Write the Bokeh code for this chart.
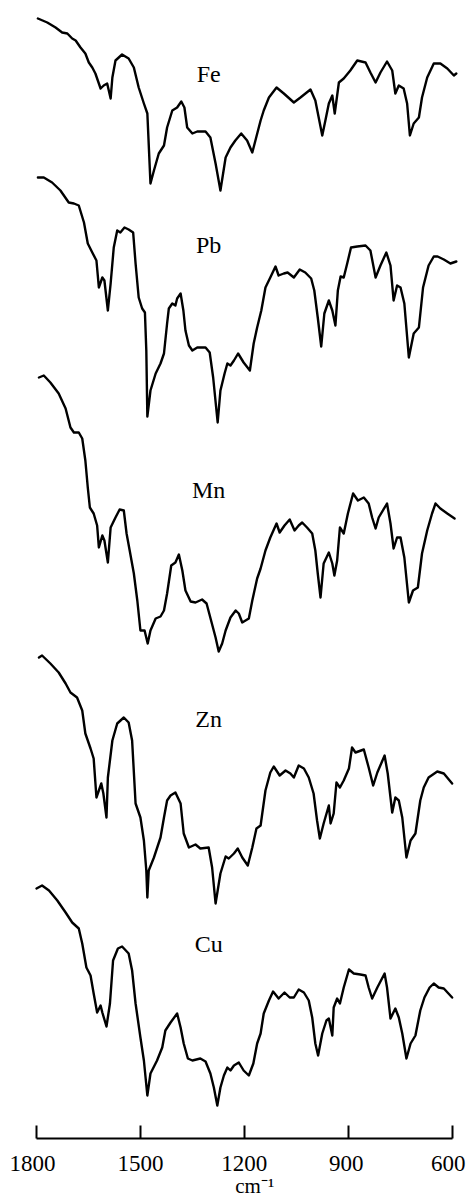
from bokeh.plotting import figure
from bokeh.models import Range1d, LinearAxis, FixedTicker
from bokeh.core.properties import value
from bokeh.embed import file_html
from bokeh.resources import INLINE

# ---------------- data (wavenumber in cm^-1, relative transmittance) ----------------
metals = ["Fe", "Pb", "Mn", "Zn", "Cu"]

fe_wn = [1796,1769,1745,1726,1711,1697,1687,1673,1659,1649,1639,1630,1615,1606,1596,1586,1581,1572,1553,1534,
         1519,1505,1490,1480,1471,1461,1447,1432,1423,1408,1394,1382,1373,1365,1350,1336,1312,1298,1283,1269,
         1254,1240,1226,1209,1192,1177,1168,1153,1144,1129,1107,1086,1057,1038,1009,995,975,966,956,946,
         939,927,913,894,874,850,836,821,807,788,773,764,754,740,730,722,711,696,687,672,653,634,614,595,588]
fe_t = [182,178,173,168,167,162,160,153,147,138,133,127,112,115,117,102,123,140,146,142,
        133,113,97,87,17,30,47,55,73,90,93,99,93,73,67,69,69,63,37,10,
        43,53,60,67,60,48,60,80,90,103,113,107,98,103,111,100,65,80,97,105,
        87,118,122,130,140,138,128,118,128,139,130,107,115,112,97,65,77,83,103,123,137,137,132,125,127]

pb_wn = [1796,1779,1755,1731,1707,1692,1678,1663,1652,1639,1627,1620,1610,1604,1594,1586,1577,1567,1558,1546,
         1534,1521,1514,1505,1495,1487,1483,1480,1471,1456,1442,1432,1423,1418,1408,1399,1394,1384,1376,1370,
         1360,1350,1336,1312,1300,1290,1277,1269,1257,1249,1240,1230,1218,1202,1184,1173,1163,1151,1139,1125,
         1110,1101,1086,1075,1057,1040,1024,1007,998,988,978,969,956,946,937,930,922,913,903,892,
         874,850,836,821,807,790,778,769,759,749,738,725,711,696,684,668,653,642,624,605,588]
pb_t = [253,253,248,240,228,227,225,208,187,178,170,143,153,150,120,147,183,200,198,203,
        201,198,167,133,122,118,80,14,40,57,67,77,107,122,127,125,132,137,120,100,
        85,80,83,83,78,53,8,40,57,67,65,70,77,68,60,87,103,120,143,153,
        164,155,157,158,153,161,158,152,140,113,84,117,130,120,105,140,154,153,167,183,
        184,185,180,153,165,178,165,130,145,143,127,73,97,103,143,165,174,174,171,167,169]

mn_wn = [1793,1779,1760,1736,1716,1702,1692,1678,1668,1659,1652,1646,1635,1625,1620,1610,1604,1594,1586,1572,
         1560,1548,1540,1531,1519,1509,1500,1488,1479,1471,1456,1442,1432,1423,1411,1399,1389,1379,1370,1355,
         1341,1322,1309,1296,1283,1274,1264,1254,1240,1225,1216,1206,1187,1177,1163,1153,1139,1125,1107,1098,
         1084,1069,1055,1043,1033,1019,1004,995,988,980,971,956,946,940,932,924,913,901,886,872,
         855,841,831,821,812,788,778,769,759,749,738,725,713,699,687,672,658,648,634,614,593]
mn_t = [283,285,278,267,252,233,228,228,222,200,173,153,147,135,113,125,120,98,133,143,
        151,150,127,110,87,60,30,30,17,30,42,44,50,67,95,98,106,90,70,59,
        58,61,57,40,23,9,17,30,43,50,47,38,42,60,82,92,110,123,137,128,
        135,141,130,135,138,133,127,110,87,63,97,108,97,85,100,133,127,147,167,160,
        163,157,143,132,143,157,137,112,123,123,103,58,70,73,107,130,147,157,152,147,142]

zn_wn = [1793,1784,1760,1736,1716,1702,1683,1668,1659,1644,1635,1627,1613,1607,1598,1594,1581,1567,1548,1534,
         1524,1514,1500,1490,1483,1480,1476,1461,1442,1432,1423,1413,1399,1384,1375,1360,1341,1327,1303,1293,
         1283,1269,1254,1245,1230,1219,1206,1190,1177,1165,1153,1139,1125,1115,1098,1081,1067,1057,1043,1028,
         1014,1000,990,982,971,956,951,942,934,924,913,898,889,879,855,841,828,816,795,786,
         773,764,754,744,732,720,706,692,682,668,643,624,600]
zn_t = [253,255,247,238,227,218,213,200,177,162,152,113,127,117,93,133,170,187,193,188,
        170,107,93,70,40,13,40,53,73,93,110,115,118,107,77,63,66,62,63,43,
        7,37,54,52,57,62,53,45,63,82,85,120,138,144,135,140,137,133,145,142,
        133,117,90,72,87,105,87,97,128,123,130,142,163,158,161,143,125,138,155,137,
        98,113,110,93,53,70,77,110,123,133,139,137,127]

cu_wn = [1800,1784,1764,1740,1716,1697,1678,1668,1656,1644,1635,1625,1615,1610,1598,1588,1579,1565,1553,1534,
         1524,1514,1500,1490,1480,1471,1452,1437,1428,1413,1394,1384,1375,1363,1350,1327,1312,1298,1288,1278,
         1269,1259,1249,1240,1230,1216,1202,1187,1174,1163,1153,1144,1129,1117,1101,1084,1069,1057,1043,1028,
         1014,1004,995,987,975,963,956,946,942,932,924,913,898,884,865,850,841,831,816,795,
         788,778,764,754,744,732,720,706,692,680,665,653,639,624,600]
cu_t = [222,225,220,210,198,188,182,167,143,135,117,98,105,98,84,107,150,162,164,157,
        140,107,73,50,15,37,50,63,80,88,97,83,67,52,50,52,49,37,23,5,
        23,35,43,40,45,48,40,35,47,67,77,97,110,119,112,118,113,113,121,118,
        110,93,67,55,77,90,92,75,103,112,107,123,141,137,136,135,123,112,123,137,
        123,92,102,93,77,52,67,75,100,113,123,127,123,122,113]

tick_values = [1800, 1500, 1200, 900, 600]
tick_labels = ["1800", "1500", "1200", "900", "600"]
x_title = "cm\u207b\u00b9"

# ---------------- layout / style ----------------
spectra_wn = [fe_wn, pb_wn, mn_wn, zn_wn, cu_wn]
spectra_t = [fe_t, pb_t, mn_t, zn_t, cu_t]
offsets = [938, 708, 478, 228, 28]          # vertical stacking of the traces
label_y = [1065, 894, 649, 420, 195]        # baseline of the metal names
label_x = 1303
serif = value("Liberation Serif")

p = figure(width=470, height=1199,
           x_range=Range1d(1904, 547), y_range=Range1d(-61, 1138),
           x_axis_type=None, y_axis_type=None,
           output_backend="svg", toolbar_location=None,
           min_border=0, outline_line_color=None,
           background_fill_color="white", border_fill_color="white")

for wn, t, off in zip(spectra_wn, spectra_t, offsets):
    p.line(x=wn, y=[off + v for v in t], line_color="black",
           line_width=2.4, line_join="round", line_cap="round")

p.text(x=[label_x] * len(metals), y=label_y, text=metals,
       text_font=serif, text_font_size="24px", text_color="black",
       text_align="center", text_baseline="alphabetic")

axis = LinearAxis(ticker=FixedTicker(ticks=tick_values), bounds=(600, 1800),
                  fixed_location=0,
                  major_tick_in=13, major_tick_out=0,
                  major_tick_line_width=2, axis_line_width=2,
                  axis_line_color="black", major_tick_line_color="black",
                  minor_tick_line_color=None,
                  major_label_text_color=None)
p.add_layout(axis, "below")

p.text(x=tick_values, y=[-25] * len(tick_values), text=tick_labels,
       x_offset=[-4, 0, 0, -2, -4],
       text_font=serif, text_font_size="23px", text_color="black",
       text_align="center", text_baseline="alphabetic")

p.text(x=[1170], y=[-47], text=[x_title],
       text_font=serif, text_font_size="21px", text_color="black",
       text_align="center", text_baseline="alphabetic")

open("out.html", "w").write(file_html(p, INLINE))
